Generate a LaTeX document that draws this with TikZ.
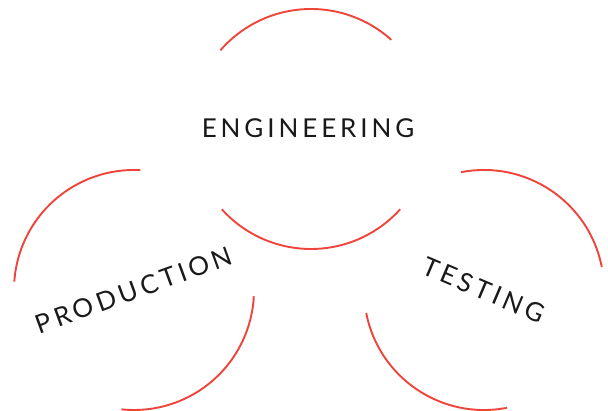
\documentclass[tikz,border=0pt]{standalone}
\usepackage{fontspec}
\newfontfamily\venfont[LetterSpace=15]{Lato}
\definecolor{arcred}{RGB}{239,68,58}
\tikzset{
  ring/.style={draw=arcred, line width=1.9pt},
  area/.style={font=\venfont\fontsize{26}{30}\selectfont, text=black!90}
}
\begin{document}
\begin{tikzpicture}[x=1pt, y=1pt]
  \useasboundingbox (0,0) rectangle (608,411);
  \coordinate (eng) at (311,282);
  \coordinate (prod) at (134,121);
  \coordinate (test) at (484,121);

  \node[area] (englabel) at (308,283) {ENGINEERING};
  \node[area, rotate=20] (prodlabel) at (prod) {PRODUCTION};
  \node[area, rotate=-23] (testlabel) at (test) {TESTING};

  % two arcs per ring
  \draw[ring] ([shift={(48:120)}]eng) arc[start angle=48, end angle=139, radius=120];
  \draw[ring] ([shift={(222:120)}]eng) arc[start angle=222, end angle=318, radius=120];
  \draw[ring] ([shift={(87:120)}]prod) arc[start angle=87, end angle=176, radius=120];
  \draw[ring] ([shift={(264:120)}]prod) arc[start angle=264, end angle=357, radius=120];
  \draw[ring] ([shift={(11:120)}]test) arc[start angle=11, end angle=101, radius=120];
  \draw[ring] ([shift={(191:120)}]test) arc[start angle=191, end angle=281, radius=120];
\end{tikzpicture}
\end{document}
